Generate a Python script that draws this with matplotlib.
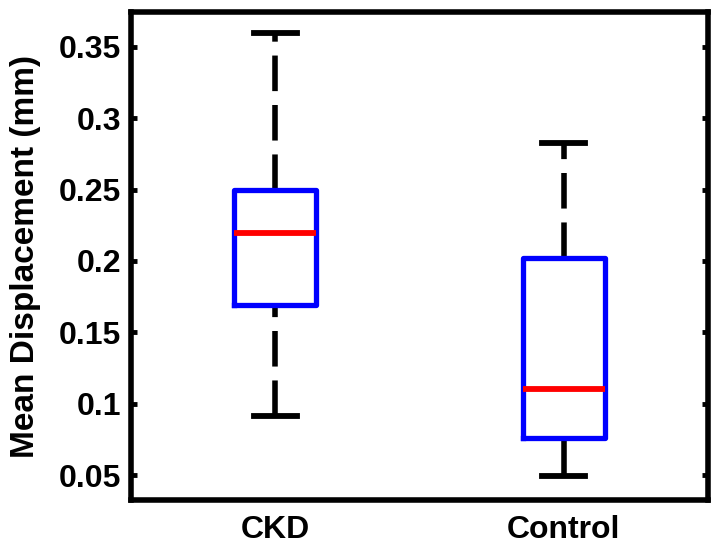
import matplotlib
matplotlib.use("Agg")
import matplotlib.pyplot as plt

# valores
grupos = ["CKD", "Control"]
minimos = [0.0911, 0.0491]
q1 = [0.169, 0.0761]
medianas = [0.2198, 0.1104]
q3 = [0.2497, 0.2024]
maximos = [0.3596, 0.2828]
y_ticks = [0.05, 0.1, 0.15, 0.2, 0.25, 0.3, 0.35]
y_tick_labels = ["0.05", "0.1", "0.15", "0.2", "0.25", "0.3", "0.35"]

plt.rcParams['font.family'] = ['Liberation Sans', 'DejaVu Sans']
plt.rcParams['font.weight'] = 'bold'

fig = plt.figure(figsize=(7.21, 5.45), dpi=100)
ax = fig.add_axes([131 / 721, 45 / 545, 577 / 721, 488 / 545])

stats = []
for i in range(len(grupos)):
    stats.append({'label': grupos[i], 'whislo': minimos[i], 'q1': q1[i],
                  'med': medianas[i], 'q3': q3[i], 'whishi': maximos[i],
                  'fliers': []})

lw = 4.0
bp = ax.bxp(stats, positions=[1, 2], widths=0.285, capwidths=0.149,
            showfliers=False, patch_artist=False,
            boxprops=dict(color='#0000ff', linewidth=3.8),
            medianprops=dict(color='#ff0000', linewidth=4.2),
            whiskerprops=dict(color='black', linewidth=lw, linestyle=(0, (6.4, 2.5))),
            capprops=dict(color='black', linewidth=4.2))

# bigode inferior comeca no cap (como no MATLAB)
for k in range(0, len(bp['whiskers']), 2):
    w = bp['whiskers'][k]
    w.set_ydata(w.get_ydata()[::-1])
    w.set_xdata(w.get_xdata()[::-1])

for w in bp['whiskers']:
    w.set_zorder(1)

ax.set_xlim(0.5, 2.5)
ax.set_ylim(0.0325, 0.3745)
ax.set_yticks(y_ticks)
ax.set_yticklabels(y_tick_labels)
ax.set_xticks([1, 2])
ax.set_xticklabels(grupos)

for s in ax.spines.values():
    s.set_linewidth(4)

ax.tick_params(axis='y', direction='in', length=4, width=3.5, pad=7,
               labelsize=23, right=True)
ax.tick_params(axis='x', length=0, pad=11, labelsize=23)
for t in ax.get_xticklabels() + ax.get_yticklabels():
    t.set_fontweight('bold')

ax.set_ylabel("Mean Displacement (mm)", fontsize=24, fontweight='bold', labelpad=13)

fig.savefig("out.png", dpi=100)
